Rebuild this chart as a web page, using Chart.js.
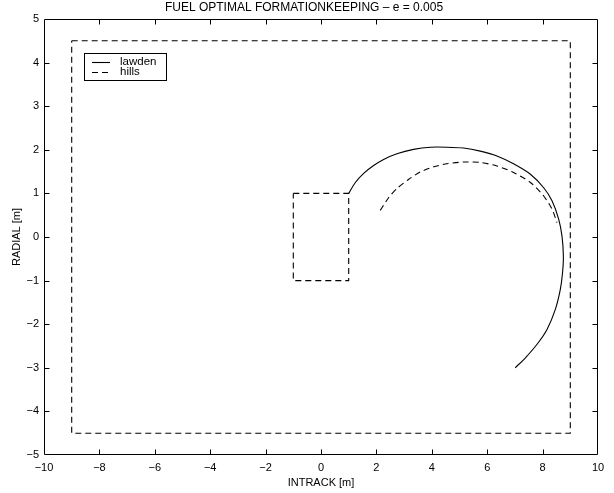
<!DOCTYPE html>
<html>
<head>
<meta charset="utf-8">
<script src="https://cdn.jsdelivr.net/npm/chart.js@4/dist/chart.umd.min.js"></script>
<style>
  html, body { margin: 0; padding: 0; background: #fff; }
  #wrap { width: 614px; height: 493px; }
</style>
</head>
<body>
<div id="wrap"><canvas id="c" width="614" height="493"></canvas></div>
<script>
// Chart text
const chartTitle = 'FUEL OPTIMAL FORMATIONKEEPING \u2013 e = 0.005';
const xAxisTitle = 'INTRACK [m]';
const yAxisTitle = 'RADIAL [m]';

// Tick values
const xTicks = [-10, -8, -6, -4, -2, 0, 2, 4, 6, 8, 10];
const yTicks = [-5, -4, -3, -2, -1, 0, 1, 2, 3, 4, 5];

// Lawden trajectory (intrack, radial)
const lawdenX = [1.00, 1.24, 1.54, 1.90, 2.26, 2.74, 3.34, 3.95, 4.55, 5.15, 5.75, 6.35, 6.95, 7.56, 8.04, 8.34, 8.58, 8.70, 8.75, 8.72, 8.64, 8.46, 8.16, 7.80, 7.38, 7.01];
const lawdenY = [1.00, 1.25, 1.46, 1.64, 1.78, 1.91, 2.01, 2.06, 2.06, 2.04, 1.97, 1.86, 1.68, 1.44, 1.13, 0.83, 0.41, 0.02, -0.44, -0.82, -1.20, -1.66, -2.12, -2.46, -2.77, -3.00];

// Hill's equations trajectory
const hillsX = [2.14, 2.44, 2.74, 3.16, 3.58, 4.07, 4.55, 5.15, 5.75, 6.35, 6.95, 7.56, 8.04, 8.34, 8.52];
const hillsY = [0.61, 0.90, 1.11, 1.32, 1.49, 1.61, 1.68, 1.72, 1.71, 1.63, 1.48, 1.25, 0.94, 0.64, 0.33];

// Outer and inner deadband boxes
const outerBoxX = [-9, 9, 9, -9, -9];
const outerBoxY = [4.5, 4.5, -4.5, -4.5, 4.5];
const innerBoxX = [-1, 1, 1, -1, -1];
const innerBoxY = [1, 1, -1, -1, 1];

const FONT = '"Liberation Sans", Arial, Helvetica, sans-serif';
const DASH = [6, 4];

function toPoints(xs, ys) {
  return xs.map((x, i) => ({ x: x, y: ys[i] }));
}
function minusSign(v) {
  return String(v).replace('-', '\u2212');
}

// Frame around the plot area with inward tick marks on all four sides
const frameTicks = {
  id: 'frameTicks',
  afterDatasetsDraw(chart) {
    const { ctx, chartArea: a, scales } = chart;
    const L = Math.round(a.left) + 0.5, R = Math.round(a.right) - 0.5;
    const T = Math.round(a.top) + 0.5, B = Math.round(a.bottom) - 0.5;
    const len = 5;
    ctx.save();
    ctx.strokeStyle = '#000';
    ctx.lineWidth = 1;
    ctx.setLineDash([]);
    ctx.beginPath();
    ctx.rect(L, T, R - L, B - T);
    scales.x.ticks.forEach(t => {
      const px = Math.round(scales.x.getPixelForValue(t.value)) + 0.5;
      if (px <= L + 1 || px >= R - 1) return;
      ctx.moveTo(px, B); ctx.lineTo(px, B - len);
      ctx.moveTo(px, T); ctx.lineTo(px, T + len);
    });
    scales.y.ticks.forEach(t => {
      const py = Math.round(scales.y.getPixelForValue(t.value)) + 0.5;
      if (py <= T + 1 || py >= B - 1) return;
      ctx.moveTo(L, py); ctx.lineTo(L + len, py);
      ctx.moveTo(R, py); ctx.lineTo(R - len, py);
    });
    ctx.stroke();
    ctx.restore();
  }
};

// Boxed legend in the upper-left corner of the plot
const boxLegend = {
  id: 'boxLegend',
  afterDraw(chart) {
    const { ctx, chartArea: a } = chart;
    const items = chart.data.datasets.filter(d => d.showInLegend);
    const left = a.left + 40, top = a.top + 34;
    const w = 82, rowH = 10, h = 7 + items.length * rowH;
    ctx.save();
    ctx.fillStyle = '#fff';
    ctx.fillRect(left, top, w, h);
    ctx.strokeStyle = '#000';
    ctx.lineWidth = 1;
    ctx.setLineDash([]);
    ctx.strokeRect(Math.round(left) + 0.5, Math.round(top) + 0.5, w, h);
    ctx.font = '11.5px ' + FONT;
    ctx.textBaseline = 'middle';
    ctx.textAlign = 'left';
    items.forEach((d, i) => {
      const cy = top + 8.5 + i * rowH;
      ctx.strokeStyle = d.borderColor;
      ctx.lineWidth = d.borderWidth;
      ctx.setLineDash(d.borderDash || []);
      ctx.beginPath();
      ctx.moveTo(left + 8, Math.round(cy) + 0.5);
      ctx.lineTo(left + 26, Math.round(cy) + 0.5);
      ctx.stroke();
      ctx.fillStyle = '#000';
      ctx.fillText(d.label, left + 36, cy + 0.5);
    });
    ctx.restore();
  }
};

const lineStyle = { showLine: true, pointRadius: 0, borderColor: '#000', borderWidth: 1.1, fill: false };

new Chart(document.getElementById('c'), {
  type: 'scatter',
  data: {
    datasets: [
      Object.assign({ label: 'lawden', data: toPoints(lawdenX, lawdenY), tension: 0.25, showInLegend: true }, lineStyle),
      Object.assign({ label: 'hills', data: toPoints(hillsX, hillsY), tension: 0.25, borderDash: DASH, showInLegend: true }, lineStyle),
      Object.assign({ label: 'outer', data: toPoints(outerBoxX, outerBoxY), tension: 0, borderDash: DASH }, lineStyle),
      Object.assign({ label: 'inner', data: toPoints(innerBoxX, innerBoxY), tension: 0, borderDash: DASH }, lineStyle)
    ]
  },
  options: {
    responsive: false,
    animation: false,
    devicePixelRatio: 1,
    layout: { padding: { top: 0, right: 16, bottom: 0, left: 10 } },
    plugins: {
      legend: { display: false },
      tooltip: { enabled: false },
      title: {
        display: true,
        text: chartTitle,
        color: '#000',
        font: { family: FONT, size: 12, weight: 'normal', lineHeight: 1.2 },
        padding: { top: 0.5, bottom: 4.1 }
      }
    },
    scales: {
      x: {
        type: 'linear',
        min: -10, max: 10,
        afterBuildTicks: s => { s.ticks = xTicks.map(v => ({ value: v })); },
        afterFit: s => { s.height = 38; },
        grid: { display: false, drawTicks: false },
        border: { display: false },
        ticks: {
          color: '#000', padding: 6, maxRotation: 0, autoSkip: false,
          font: { family: FONT, size: 11 },
          callback: v => minusSign(v)
        },
        title: {
          display: true, text: xAxisTitle, color: '#000',
          font: { family: FONT, size: 11 },
          padding: { top: 0, bottom: 3.5 }
        }
      },
      y: {
        type: 'linear',
        min: -5, max: 5,
        afterBuildTicks: s => { s.ticks = yTicks.map(v => ({ value: v })); },
        afterFit: s => { s.width = 34; },
        grid: { display: false, drawTicks: false },
        border: { display: false },
        ticks: {
          color: '#000', padding: 5, autoSkip: false,
          font: { family: FONT, size: 11 },
          callback: v => minusSign(v)
        },
        title: {
          display: true, text: yAxisTitle, color: '#000',
          font: { family: FONT, size: 11 },
          padding: { top: 0, bottom: 0 }
        }
      }
    }
  },
  plugins: [frameTicks, boxLegend]
});
</script>
</body>
</html>
